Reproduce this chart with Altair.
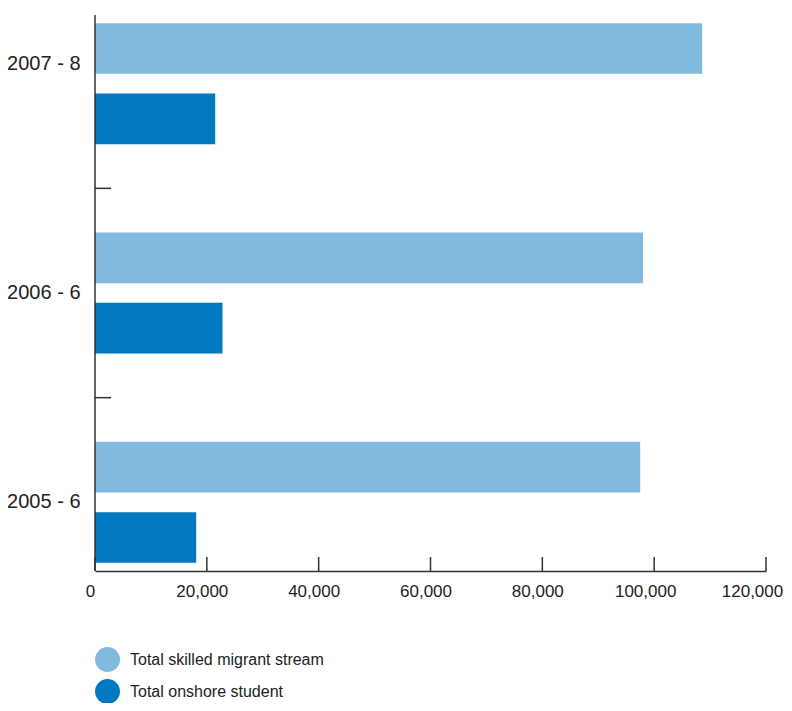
import altair as alt
import pandas as pd

years = ["2007 - 8", "2006 - 6", "2005 - 6"]
series = ["Total skilled migrant stream", "Total onshore student"]
skilled = [108600, 98000, 97500]
onshore = [21500, 22800, 18100]
x_ticks = [0, 20000, 40000, 60000, 80000, 100000, 120000]
colors = ["#80BBDF", "#0079C1"]

rows = []
for y, s, o in zip(years, skilled, onshore):
    rows.append({"year": y, "series": series[0], "value": s})
    rows.append({"year": y, "series": series[1], "value": o})
df = pd.DataFrame(rows)

W, H = 671, 556
FONT = "Liberation Sans"
TXT = "#222222"
LINE = "#333333"

yscale = alt.Scale(domain=years, range=[-36, 592], paddingInner=0, paddingOuter=0)

bars = alt.Chart(df).mark_bar(clip=True).encode(
    x=alt.X("value:Q", scale=alt.Scale(domain=[0, 120000], nice=False),
            axis=alt.Axis(values=x_ticks, format=",.0f", ticks=False, grid=False,
                          labelFont=FONT, labelFontSize=17, labelColor=TXT,
                          labelPadding=12, labelFlush=False,
                          labelOffset={"condition": [
                              {"test": "datum.value >= 120000", "value": -14},
                              {"test": "datum.value >= 100000", "value": -9}],
                              "value": -5},
                          domainColor=LINE, domainWidth=1.5, title=None)),
    y=alt.Y("year:N", scale=yscale, sort=years,
            axis=alt.Axis(title=None, ticks=False, grid=False, domain=False,
                          labelFont=FONT, labelFontSize=20, labelColor=TXT,
                          labelPadding=15, labelLimit=0,
                          labelOffset={"condition": {"test": "datum.value === '2007 - 8'", "value": -20}, "value": 0})),
    yOffset=alt.YOffset("series:N", sort=series,
                        scale=alt.Scale(paddingInner=0.279, paddingOuter=0.628)),
    color=alt.Color("series:N", sort=series,
                    scale=alt.Scale(domain=series, range=colors),
                    legend=alt.Legend(orient="none", legendX=0, legendY=632, title=None,
                                      symbolType="circle", symbolSize=625,
                                      symbolStrokeWidth=0, symbolOpacity=1,
                                      labelFont=FONT, labelFontSize=16, labelColor=TXT,
                                      labelLimit=0,
                                      labelOffset=10, rowPadding=7, padding=0)),
)

ticks_df = pd.DataFrame({"year": years})
yticks = alt.Chart(ticks_df).mark_rule(clip=True, color=LINE, strokeWidth=1.5).encode(
    y=alt.Y("year:N", bandPosition=0, sort=years),
    x=alt.value(0), x2=alt.value(16),
)

xt_df = pd.DataFrame({"tick": x_ticks})
xticks = alt.Chart(xt_df).mark_rule(color=LINE, strokeWidth=1.5).encode(
    x=alt.X("tick:Q"), y=alt.value(H - 14), y2=alt.value(H),
)

yaxis_line = alt.Chart(pd.DataFrame({"a": [0]})).mark_rule(color=LINE, strokeWidth=1.5).encode(
    x=alt.value(0), y=alt.value(0), y2=alt.value(H),
)

chart = alt.layer(bars, yticks, xticks, yaxis_line).properties(
    width=W, height=H,
    autosize=alt.AutoSizeParams(type="none"),
    padding={"left": 87, "top": 7, "right": 18, "bottom": 132},
).configure_view(stroke=None)

chart.save("out.html", embed_options={"renderer": "svg", "actions": False})
